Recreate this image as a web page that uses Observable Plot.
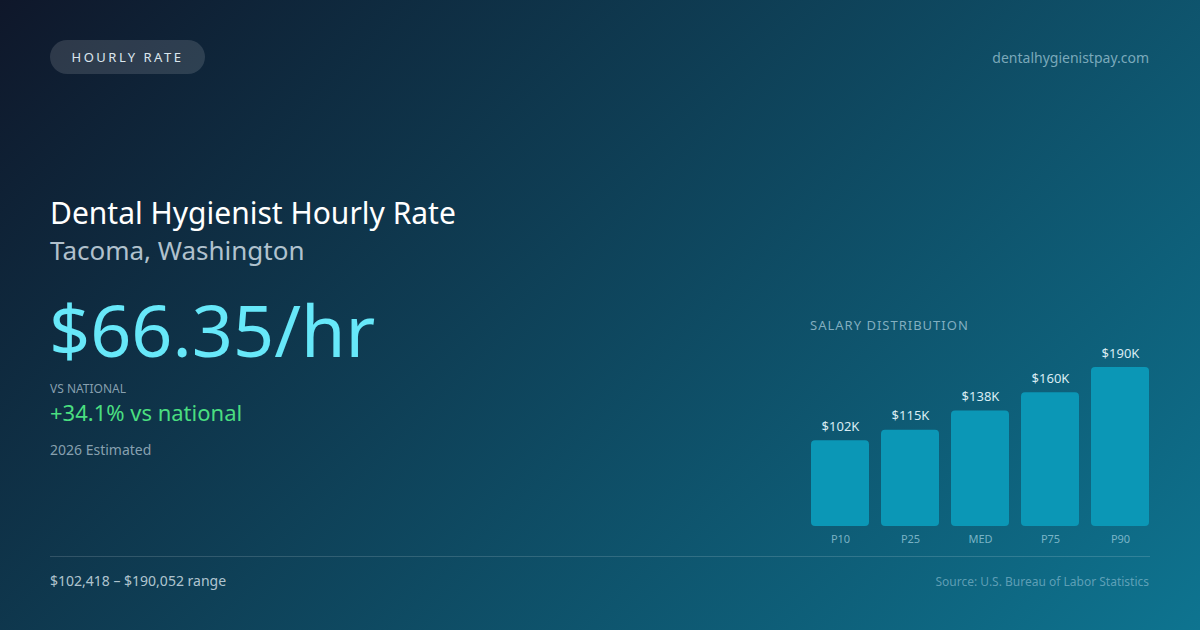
<!DOCTYPE html>
<html>
<head>
<meta charset="utf-8">
<script src="https://cdn.jsdelivr.net/npm/d3@7"></script>
<script src="https://cdn.jsdelivr.net/npm/@observablehq/plot@0.6"></script>
<style>
  html, body { margin: 0; padding: 0; }
  body { width: 1200px; height: 630px; overflow: hidden; font-family: "Noto Sans", "Open Sans", sans-serif; }
  #card { position: relative; width: 1200px; height: 630px; background: linear-gradient(135deg, #0f172a 0%, #0e7490 100%); }
  .abs { position: absolute; white-space: nowrap; }
  #pill { left: 50px; top: 40px; width: 155px; height: 34px; border-radius: 17px; background: rgba(255,255,255,0.13); color: #dbe6ee; font-size: 13px; letter-spacing: 2.5px; line-height: 34px; text-align: center; }
  #url { right: 51px; top: 48px; font-size: 14px; color: rgba(160,200,215,0.75); }
  #title { left: 50px; top: 192px; font-size: 30px; color: #ffffff; }
  #subtitle { left: 50px; top: 232px; font-size: 26px; color: rgba(215,228,238,0.82); }
  #big { left: 49px; top: 281px; font-size: 72px; line-height: 96px; color: #67e8f9; }
  #vslabel { left: 50px; top: 380px; font-size: 12px; color: rgba(190,210,222,0.7); }
  #vs { left: 50px; top: 397px; font-size: 22px; color: #4ade80; }
  #est { left: 50px; top: 440px; font-size: 14px; color: rgba(190,210,222,0.7); }
  #rule { left: 50px; top: 556px; width: 1100px; height: 1px; background: rgba(255,255,255,0.15); }
  #range { left: 50px; top: 571px; font-size: 14px; color: rgba(220,232,240,0.8); }
  #source { right: 51px; top: 573px; font-size: 12px; color: rgba(140,190,210,0.65); }
  #distlabel { left: 810px; top: 316px; font-size: 13px; letter-spacing: 1px; color: rgba(170,205,220,0.75); }
  #chart { left: 810px; top: 340px; }
</style>
</head>
<body>
<div id="card">
  <div class="abs" id="pill">HOURLY RATE</div>
  <div class="abs" id="url">dentalhygienistpay.com</div>
  <div class="abs" id="title">Dental Hygienist Hourly Rate</div>
  <div class="abs" id="subtitle">Tacoma, Washington</div>
  <div class="abs" id="big">$66.35/hr</div>
  <div class="abs" id="vslabel">VS NATIONAL</div>
  <div class="abs" id="vs">+34.1% vs national</div>
  <div class="abs" id="est">2026 Estimated</div>
  <div class="abs" id="distlabel">SALARY DISTRIBUTION</div>
  <div class="abs" id="chart"></div>
  <div class="abs" id="rule"></div>
  <div class="abs" id="range">$102,418 – $190,052 range</div>
  <div class="abs" id="source">Source: U.S. Bureau of Labor Statistics</div>
</div>
<script>
const percentiles = ["P10", "P25", "MED", "P75", "P90"];
const salaries = [102418, 115000, 138008, 160000, 190052];
const valueLabels = ["$102K", "$115K", "$138K", "$160K", "$190K"];

const data = percentiles.map((p, i) => ({p, v: salaries[i], label: valueLabels[i]}));

const chart = Plot.plot({
  width: 340,
  height: 210,
  marginLeft: 0,
  marginRight: 0,
  marginTop: 27,
  marginBottom: 24,
  style: {background: "transparent", fontFamily: "Noto Sans, Open Sans, sans-serif", overflow: "visible"},
  x: {domain: percentiles, paddingInner: 0.17, paddingOuter: 0, axis: null},
  y: {domain: [0, d3.max(salaries)], axis: null},
  marks: [
    Plot.barY(data, {x: "p", y: "v", fill: "#0b97b6", rx: 4}),
    Plot.text(data, {x: "p", y: "v", text: "label", dy: -14, fill: "#d9ecf3", fontSize: 13}),
    Plot.axisX({tickSize: 0, tickPadding: 9, fontSize: 11, fill: "rgba(150,200,218,0.8)", label: null})
  ]
});
document.getElementById("chart").appendChild(chart);
</script>
</body>
</html>
